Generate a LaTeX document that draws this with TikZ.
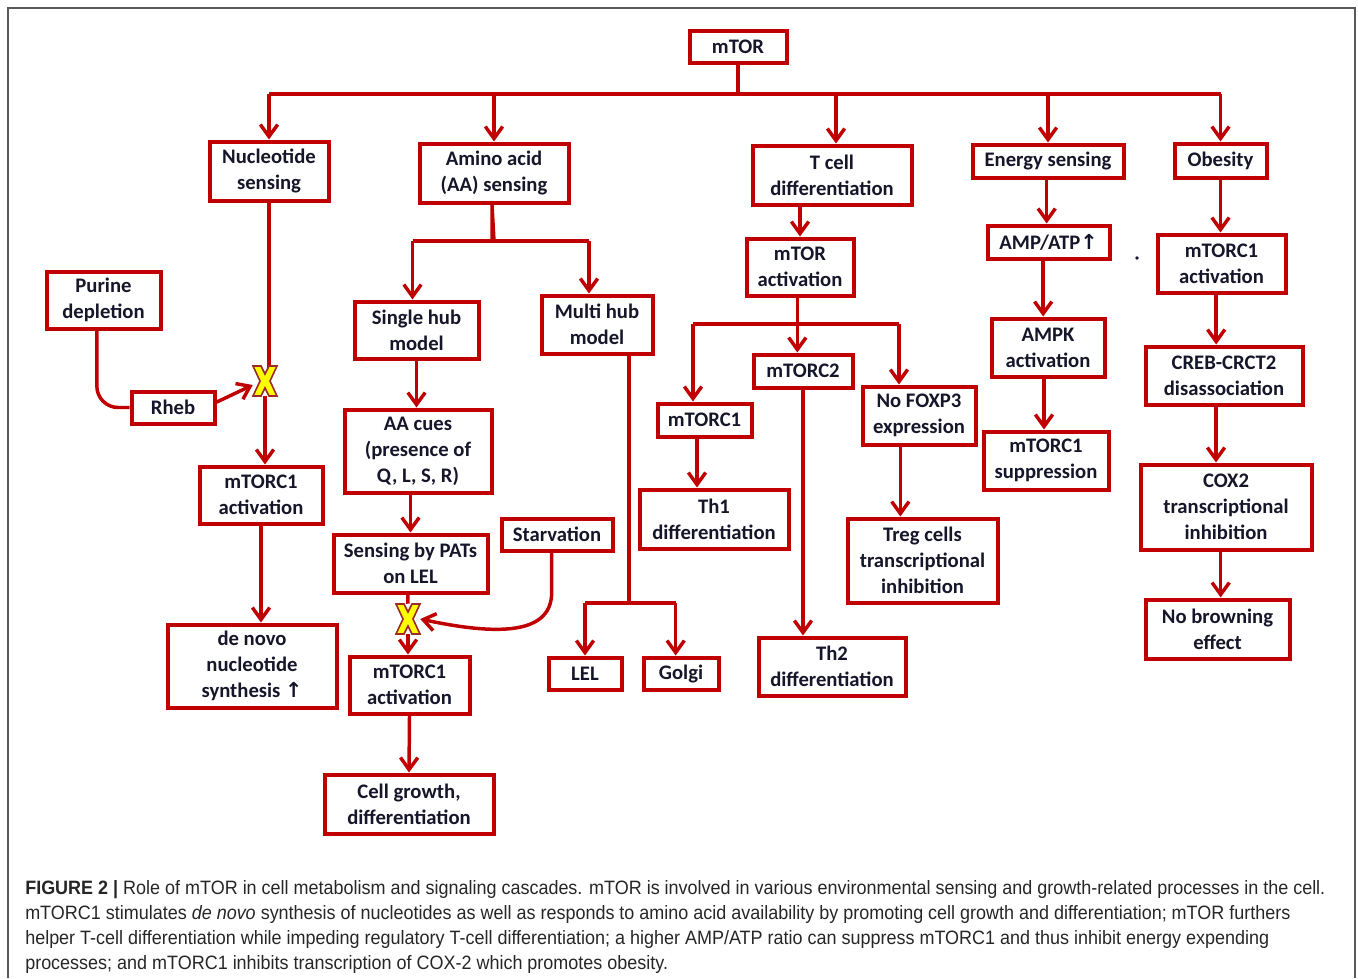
\documentclass[tikz,border=0pt]{standalone}
\usepackage{fontspec}
\setmainfont{Carlito}
\newfontfamily\capfont[FakeStretch=0.93]{Liberation Sans}
\newfontfamily\symfont{DejaVu Sans}
\usetikzlibrary{arrows.meta,positioning,calc}
\definecolor{mred}{HTML}{C00000}
\definecolor{ink}{HTML}{16162A}
\definecolor{xyel}{HTML}{FFFF00}
\definecolor{xrim}{HTML}{9C2A2A}
\tikzset{
  box/.style  ={draw=mred,line width=3pt,fill=white,align=center,text=ink,
                font=\fontsize{15.5}{19.5}\selectfont\bfseries,inner sep=0pt},
  sz/.style 2 args={minimum width=#1*.75pt,minimum height=#2*.75pt},
  ln/.style   ={draw=mred,line width=2.6pt},
  a/.style    ={ln,-{Straight Barb[length=9pt,width=13pt]}},
  xmk/.style  ={minimum width=24*.75pt,minimum height=30*.75pt,inner sep=0pt},
  xfill/.style={fill=xyel,draw=xrim,line width=1.2pt},
  capline/.style={anchor=base west,inner sep=0pt,text=black!85,
                font=\capfont\fontsize{14.5}{18.75}\selectfont},
}
\newcommand\xcross[1]{%
  \draw[xfill,shift={(#1.center)}] (-12,-15) -- (-4,-15) -- (0,-7) -- (4,-15)
    -- (12,-15) -- (5,0) -- (12,15) -- (4,15) -- (0,7) -- (-4,15) -- (-12,15)
    -- (-5,0) -- cycle;}
\newcommand\up{{\symfont\textbf{↑}}}

\begin{document}
\begin{tikzpicture}[x=.75pt,y=-.75pt]
  \useasboundingbox (0,0) rectangle (1358,978);
  \draw[gray!70!black,line width=1.2pt] (8,978) -- (8,8) -- (1355,8) -- (1355,978);

  % --- top level ---
  \node[box,sz={97}{32}] (mtor) at (738,46.5) {mTOR};
  \coordinate (hub) at (738,94);
  \node[box,sz={119}{59}] (nuc)   at (269,171)    {Nucleotide\\ sensing};
  \node[box,sz={149}{59}] (aa)    at (494,173)    {Amino acid\\ (AA) sensing};
  \node[box,sz={159}{59}] (tcell) at (832,175)    {T cell\\ differentiation};
  \node[box,sz={151}{33}] (enr)   at (1048,161)   {Energy sensing};
  \node[box,sz={92}{34}]  (obes)  at (1220.5,160.5) {Obesity};

  \draw[ln] (mtor.south) -- (hub);
  \draw[ln] (nuc.north |- hub) -- (obes.north |- hub);
  \foreach \n in {nuc,aa,enr,obes}
    \draw[a] (\n.north |- hub) -- (\n.north);
  \draw[a] ([xshift=3pt]tcell.north |- hub) -- ([xshift=3pt]tcell.north);

  % --- nucleotide branch ---
  \node[box,sz={114}{57}] (pur)    at (103.5,300) {Purine\\ depletion};
  \node[box,sz={83}{32}]  (rheb)   at (173,407.5) {Rheb};
  \node[xmk]              (xn)     at (265,381)   {};
  \node[box,sz={123}{57}] (mtorcA) at (261,495)   {mTORC1\\ activation};
  \node[box,sz={169}{83}] (novo)   at (252,666)   {de novo\\ nucleotide\\ synthesis \up};

  \draw[ln] (nuc.south) -- (nuc.south |- xn);
  \draw[a] (xn) -- (xn |- mtorcA.north);
  \draw[ln,rounded corners=16pt] ([xshift=-5pt]pur.south) |- (rheb.west);
  \draw[a] ([yshift=4pt]rheb.east) -- ([yshift=-3pt]xn.west);
  \draw[a] (mtorcA.south) -- (mtorcA.south |- novo.north);
  \xcross{xn}

  % --- amino acid branch ---
  \coordinate (aab) at (492,241);
  \node[box,sz={124}{57}] (single) at (416.5,330) {Single hub\\ model};
  \node[box,sz={111}{58}] (multi)  at (597,324.5) {Multi hub\\ model};
  \node[box,sz={147}{83}] (cues)   at (418,451)   {AA cues\\ (presence of\\ Q, L, S, R)};
  \node[box,sz={154}{58}] (pats)   at (410.5,563.5) {Sensing by PATs\\ on LEL};
  \node[box,sz={111}{32}] (starv)  at (557,534.5) {Starvation};
  \node[xmk]              (xa)     at (408,619)   {};
  \node[box,sz={120}{57}] (mtorcB) at (409.5,685) {mTORC1\\ activation};
  \node[box,sz={169}{59}] (grow)   at (409,804)   {Cell growth,\\ differentiation};
  \coordinate (mh) at (629,603);
  \node[box,sz={73}{32}]  (lel)    at (585,673.5) {LEL};
  \node[box,sz={75}{32}]  (golgi)  at (681,673.5) {Golgi};

  \draw[ln] (aa.south |- aab) -- (aa.south -| aab) -- (aab);
  \draw[ln] ([xshift=-3pt]single.north |- aab) -- ([xshift=-6pt]multi.north |- aab);
  \draw[a] ([xshift=-3pt]single.north |- aab) -- ([xshift=-3pt]single.north);
  \draw[a] ([xshift=-6pt]multi.north |- aab) -- ([xshift=-6pt]multi.north);
  \draw[a] (single.south) -- (single.south |- cues.north);
  \draw[a] (pats.north |- cues.south) -- (pats.north);
  \draw[ln] ([xshift=-2pt]pats.south) -- (xa);
  \draw[a] (xa) -- (xa |- mtorcB.north);
  \draw[a] ([xshift=-4pt]starv.south) -- ++(0,40) .. controls +(0,45) and +(70,15) .. (xa.east);
  \draw[a] (mtorcB.south) -- (grow.north);
  \xcross{xa}

  \draw[ln] (multi.south -| mh) -- (mh);
  \draw[ln] (lel.north |- mh) -- ([xshift=-4pt]golgi.north |- mh);
  \draw[a] (lel.north |- mh) -- (lel.north);
  \draw[a] ([xshift=-4pt]golgi.north |- mh) -- ([xshift=-4pt]golgi.north);

  % --- T cell branch ---
  \node[box,sz={107}{57}] (mact)   at (800,267)   {mTOR\\ activation};
  \node[box,sz={99}{33}]  (mtorc2) at (803,371)   {mTORC2};
  \node[box,sz={94}{33}]  (mtorcT) at (704.5,420) {mTORC1};
  \node[box,sz={113}{58}] (foxp3)  at (919,415.5) {No FOXP3\\ expression};
  \node[box,sz={149}{59}] (th1)    at (714,519)   {Th1\\ differentiation};
  \node[box,sz={147}{58}] (th2)    at (832,666.5) {Th2\\ differentiation};
  \node[box,sz={150}{84}] (treg)   at (922.5,560.5) {Treg cells\\ transcriptional\\ inhibition};
  \coordinate (tbL) at (693,324);
  \coordinate (tbR) at (899,324);

  \draw[a] (mact.north |- tcell.south) -- (mact.north);
  \draw[ln] (tbL) -- (tbR);
  \draw[a] ([xshift=-2pt]mact.south) -- ([xshift=-2pt]mact.south |- mtorc2.north);
  \draw[a] (tbL) -- (tbL |- mtorcT.north);
  \draw[a] (tbR) -- (tbR |- foxp3.north);
  \draw[a] ([xshift=3pt]tbL |- mtorcT.south) -- ([xshift=3pt]tbL |- th1.north);
  \draw[a] (mtorc2.south) -- (mtorc2.south |- th2.north);
  \draw[a] ([xshift=1pt]tbR |- foxp3.south) -- ([xshift=1pt]tbR |- treg.north);

  % --- energy branch ---
  \node[box,sz={122}{33}] (amp)  at (1048.5,242) {AMP/ATP\up};
  \node[box,sz={113}{58}] (ampk) at (1048,347.5) {AMPK\\ activation};
  \node[box,sz={125}{58}] (supp) at (1046,460.5) {mTORC1\\ suppression};
  \fill[ink] (1137,258) circle (1.4pt);

  \draw[a] ([xshift=-1pt]enr.south) -- ([xshift=-1pt]enr.south |- amp.north);
  \draw[a] ([xshift=-4pt]amp.south) -- ([xshift=-4pt]amp.south |- ampk.north);
  \draw[a] ([xshift=-3pt]ampk.south) -- ([xshift=-3pt]ampk.south |- supp.north);

  % --- obesity branch ---
  \node[box,sz={128}{58}] (mtorcR) at (1221.5,263.5) {mTORC1\\ activation};
  \node[box,sz={157}{58}] (creb)   at (1224,375.5)   {CREB-CRCT2\\ disassociation};
  \node[box,sz={171}{85}] (cox)    at (1226,507)     {COX2\\ transcriptional\\ inhibition};
  \node[box,sz={144}{59}] (brown)  at (1217.5,629)   {No browning\\ effect};

  \draw[a] (obes.south) -- (obes.south |- mtorcR.north);
  \draw[a] ([xshift=-4pt]mtorcR.south) -- ([xshift=-4pt]mtorcR.south |- creb.north);
  \draw[a] ([xshift=-6pt]creb.south) -- ([xshift=-6pt]creb.south |- cox.north);
  \draw[a] ([xshift=-4pt]cox.south) -- ([xshift=-4pt]cox.south |- brown.north);

  % --- caption ---
  \node[capline] (cap1) at (25,894) {\textbf{FIGURE 2 |} Role of mTOR in cell metabolism and signaling cascades. mTOR is involved in various environmental sensing and growth-related processes in the cell.};
  \node[capline] (cap2) at (25,919) {mTORC1 stimulates \textit{de novo} synthesis of nucleotides as well as responds to amino acid availability by promoting cell growth and differentiation; mTOR furthers};
  \node[capline] (cap3) at (25,944) {helper T-cell differentiation while impeding regulatory T-cell differentiation; a higher AMP/ATP ratio can suppress mTORC1 and thus inhibit energy expending};
  \node[capline] (cap4) at (25,969) {processes; and mTORC1 inhibits transcription of COX-2 which promotes obesity.};
\end{tikzpicture}
\end{document}
